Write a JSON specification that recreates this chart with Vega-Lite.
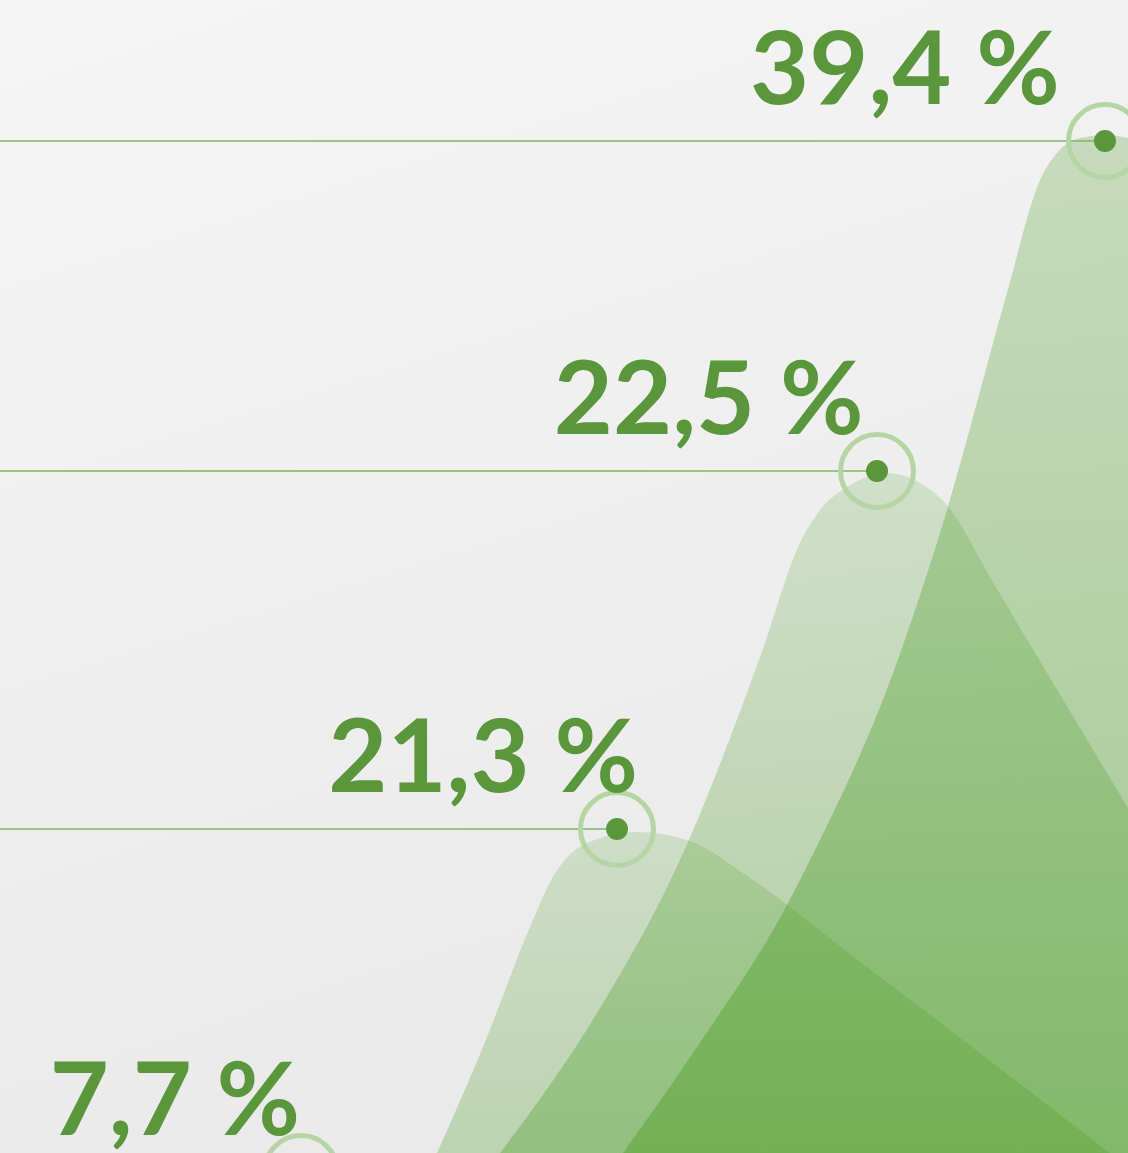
{
  "$schema": "https://vega.github.io/schema/vega-lite/v6.json",
  "width": 1128,
  "height": 1153,
  "autosize": {"type": "none"},
  "padding": 0,
  "background": "#efefef",
  "config": {"view": {"stroke": null}},
  "datasets": {
    "frame": [{"x0": 0, "x1": 100, "y0": 0, "y1": 100}],
    "curves": [
      {"series": "A", "x": 38.74, "y": 0},
      {"series": "A", "x": 42.82, "y": 9.19},
      {"series": "A", "x": 46.99, "y": 19.6},
      {"series": "A", "x": 49.02, "y": 23.94},
      {"series": "A", "x": 52.04, "y": 26.89},
      {"series": "A", "x": 56.47, "y": 27.84},
      {"series": "A", "x": 60.9, "y": 27.15},
      {"series": "A", "x": 66.76, "y": 23.68},
      {"series": "A", "x": 75.35, "y": 17.26},
      {"series": "A", "x": 86.88, "y": 8.67},
      {"series": "A", "x": 98.4, "y": 0},
      {"series": "B", "x": 44.33, "y": 0},
      {"series": "B", "x": 52.93, "y": 12.14},
      {"series": "B", "x": 60.28, "y": 25.41},
      {"series": "B", "x": 67.38, "y": 43.02},
      {"series": "B", "x": 70.92, "y": 52.91},
      {"series": "B", "x": 72.7, "y": 55.77},
      {"series": "B", "x": 75.09, "y": 57.76},
      {"series": "B", "x": 78.63, "y": 58.98},
      {"series": "B", "x": 81.56, "y": 58.11},
      {"series": "B", "x": 83.95, "y": 56.2},
      {"series": "B", "x": 87.94, "y": 49.65},
      {"series": "B", "x": 91.93, "y": 43.1},
      {"series": "B", "x": 95.97, "y": 36.5},
      {"series": "B", "x": 100, "y": 29.92},
      {"series": "C", "x": 55.23, "y": 0},
      {"series": "C", "x": 61.79, "y": 9.19},
      {"series": "C", "x": 69.77, "y": 21.51},
      {"series": "C", "x": 71.81, "y": 25.41},
      {"series": "C", "x": 79.17, "y": 41.63},
      {"series": "C", "x": 83.95, "y": 55.77},
      {"series": "C", "x": 89.27, "y": 74.59},
      {"series": "C", "x": 92.2, "y": 84.39},
      {"series": "C", "x": 93.71, "y": 86.73},
      {"series": "C", "x": 95.74, "y": 88.03},
      {"series": "C", "x": 98.14, "y": 88.29},
      {"series": "C", "x": 100, "y": 88.03}
    ],
    "points": [
      {"label": "39,4 %", "value": 39.4, "x": 97.96, "y": 87.77, "labelX": 66.5},
      {"label": "22,5 %", "value": 22.5, "x": 77.75, "y": 59.15, "labelX": 49.1},
      {"label": "21,3 %", "value": 21.3, "x": 54.7, "y": 28.1, "labelX": 29.1},
      {"label": "7,7 %", "value": 7.7, "x": 26.68, "y": -1.65, "labelX": 4.4}
    ]
  },
  "layer": [
    {
      "data": {"name": "frame"},
      "mark": {
        "type": "rect",
        "fill": {"gradient": "linear", "x1": 0, "y1": 0, "x2": 0.3, "y2": 1,
          "stops": [{"offset": 0, "color": "#f5f5f5"}, {"offset": 1, "color": "#eaeaea"}]}
      },
      "encoding": {
        "x": {"field": "x0", "type": "quantitative", "axis": null, "scale": {"domain": [0, 100], "nice": false, "zero": false}},
        "x2": {"field": "x1"},
        "y": {"field": "y0", "type": "quantitative", "axis": null, "scale": {"domain": [0, 100], "nice": false, "zero": false}},
        "y2": {"field": "y1"}
      }
    },
    {
      "data": {"name": "curves"},
      "transform": [{"filter": "datum.series === 'A'"}],
      "mark": {
        "type": "area", "interpolate": "monotone",
        "fill": {"gradient": "linear", "x1": 0, "y1": 0, "x2": 0, "y2": 1,
          "stops": [{"offset": 0, "color": "rgba(70,155,30,0.18)"}, {"offset": 1, "color": "rgba(70,155,30,0.28)"}]}
      },
      "encoding": {
        "x": {"field": "x", "type": "quantitative", "axis": null, "scale": {"domain": [0, 100], "nice": false, "zero": false}},
        "y": {"field": "y", "type": "quantitative", "axis": null, "scale": {"domain": [0, 100], "nice": false, "zero": false}},
        "y2": {"datum": 0}
      }
    },
    {
      "data": {"name": "curves"},
      "transform": [{"filter": "datum.series === 'B'"}],
      "mark": {
        "type": "area", "interpolate": "monotone",
        "fill": {"gradient": "linear", "x1": 0, "y1": 0, "x2": 0, "y2": 1,
          "stops": [{"offset": 0, "color": "rgba(70,155,30,0.18)"}, {"offset": 1, "color": "rgba(70,155,30,0.35)"}]}
      },
      "encoding": {
        "x": {"field": "x", "type": "quantitative", "axis": null, "scale": {"domain": [0, 100], "nice": false, "zero": false}},
        "y": {"field": "y", "type": "quantitative", "axis": null, "scale": {"domain": [0, 100], "nice": false, "zero": false}},
        "y2": {"datum": 0}
      }
    },
    {
      "data": {"name": "curves"},
      "transform": [{"filter": "datum.series === 'C'"}],
      "mark": {
        "type": "area", "interpolate": "monotone",
        "fill": {"gradient": "linear", "x1": 0, "y1": 0, "x2": 0, "y2": 1,
          "stops": [{"offset": 0, "color": "rgba(70,155,30,0.25)"}, {"offset": 1, "color": "rgba(70,155,30,0.42)"}]}
      },
      "encoding": {
        "x": {"field": "x", "type": "quantitative", "axis": null, "scale": {"domain": [0, 100], "nice": false, "zero": false}},
        "y": {"field": "y", "type": "quantitative", "axis": null, "scale": {"domain": [0, 100], "nice": false, "zero": false}},
        "y2": {"datum": 0}
      }
    },
    {
      "data": {"name": "points"},
      "mark": {"type": "rule", "color": "#84b36a", "strokeWidth": 1.5},
      "encoding": {
        "x": {"field": "x", "type": "quantitative", "axis": null, "scale": {"domain": [0, 100], "nice": false, "zero": false}},
        "x2": {"datum": 0},
        "y": {"field": "y", "type": "quantitative", "axis": null, "scale": {"domain": [0, 100], "nice": false, "zero": false}}
      }
    },
    {
      "data": {"name": "points"},
      "mark": {"type": "point", "shape": "circle", "filled": false, "size": 5329, "stroke": "#b5d5a5", "strokeWidth": 5, "opacity": 1},
      "encoding": {
        "x": {"field": "x", "type": "quantitative", "axis": null, "scale": {"domain": [0, 100], "nice": false, "zero": false}},
        "y": {"field": "y", "type": "quantitative", "axis": null, "scale": {"domain": [0, 100], "nice": false, "zero": false}}
      }
    },
    {
      "data": {"name": "points"},
      "mark": {"type": "point", "shape": "circle", "filled": true, "size": 484, "color": "#5a963c", "opacity": 1},
      "encoding": {
        "x": {"field": "x", "type": "quantitative", "axis": null, "scale": {"domain": [0, 100], "nice": false, "zero": false}},
        "y": {"field": "y", "type": "quantitative", "axis": null, "scale": {"domain": [0, 100], "nice": false, "zero": false}}
      }
    },
    {
      "data": {"name": "points"},
      "mark": {"type": "text", "font": "Lato", "fontWeight": "bold", "fontSize": 102, "color": "#5a963c", "align": "left", "baseline": "alphabetic", "dy": -37},
      "encoding": {
        "x": {"field": "labelX", "type": "quantitative", "axis": null, "scale": {"domain": [0, 100], "nice": false, "zero": false}},
        "y": {"field": "y", "type": "quantitative", "axis": null, "scale": {"domain": [0, 100], "nice": false, "zero": false}},
        "text": {"field": "label"}
      }
    }
  ]
}
